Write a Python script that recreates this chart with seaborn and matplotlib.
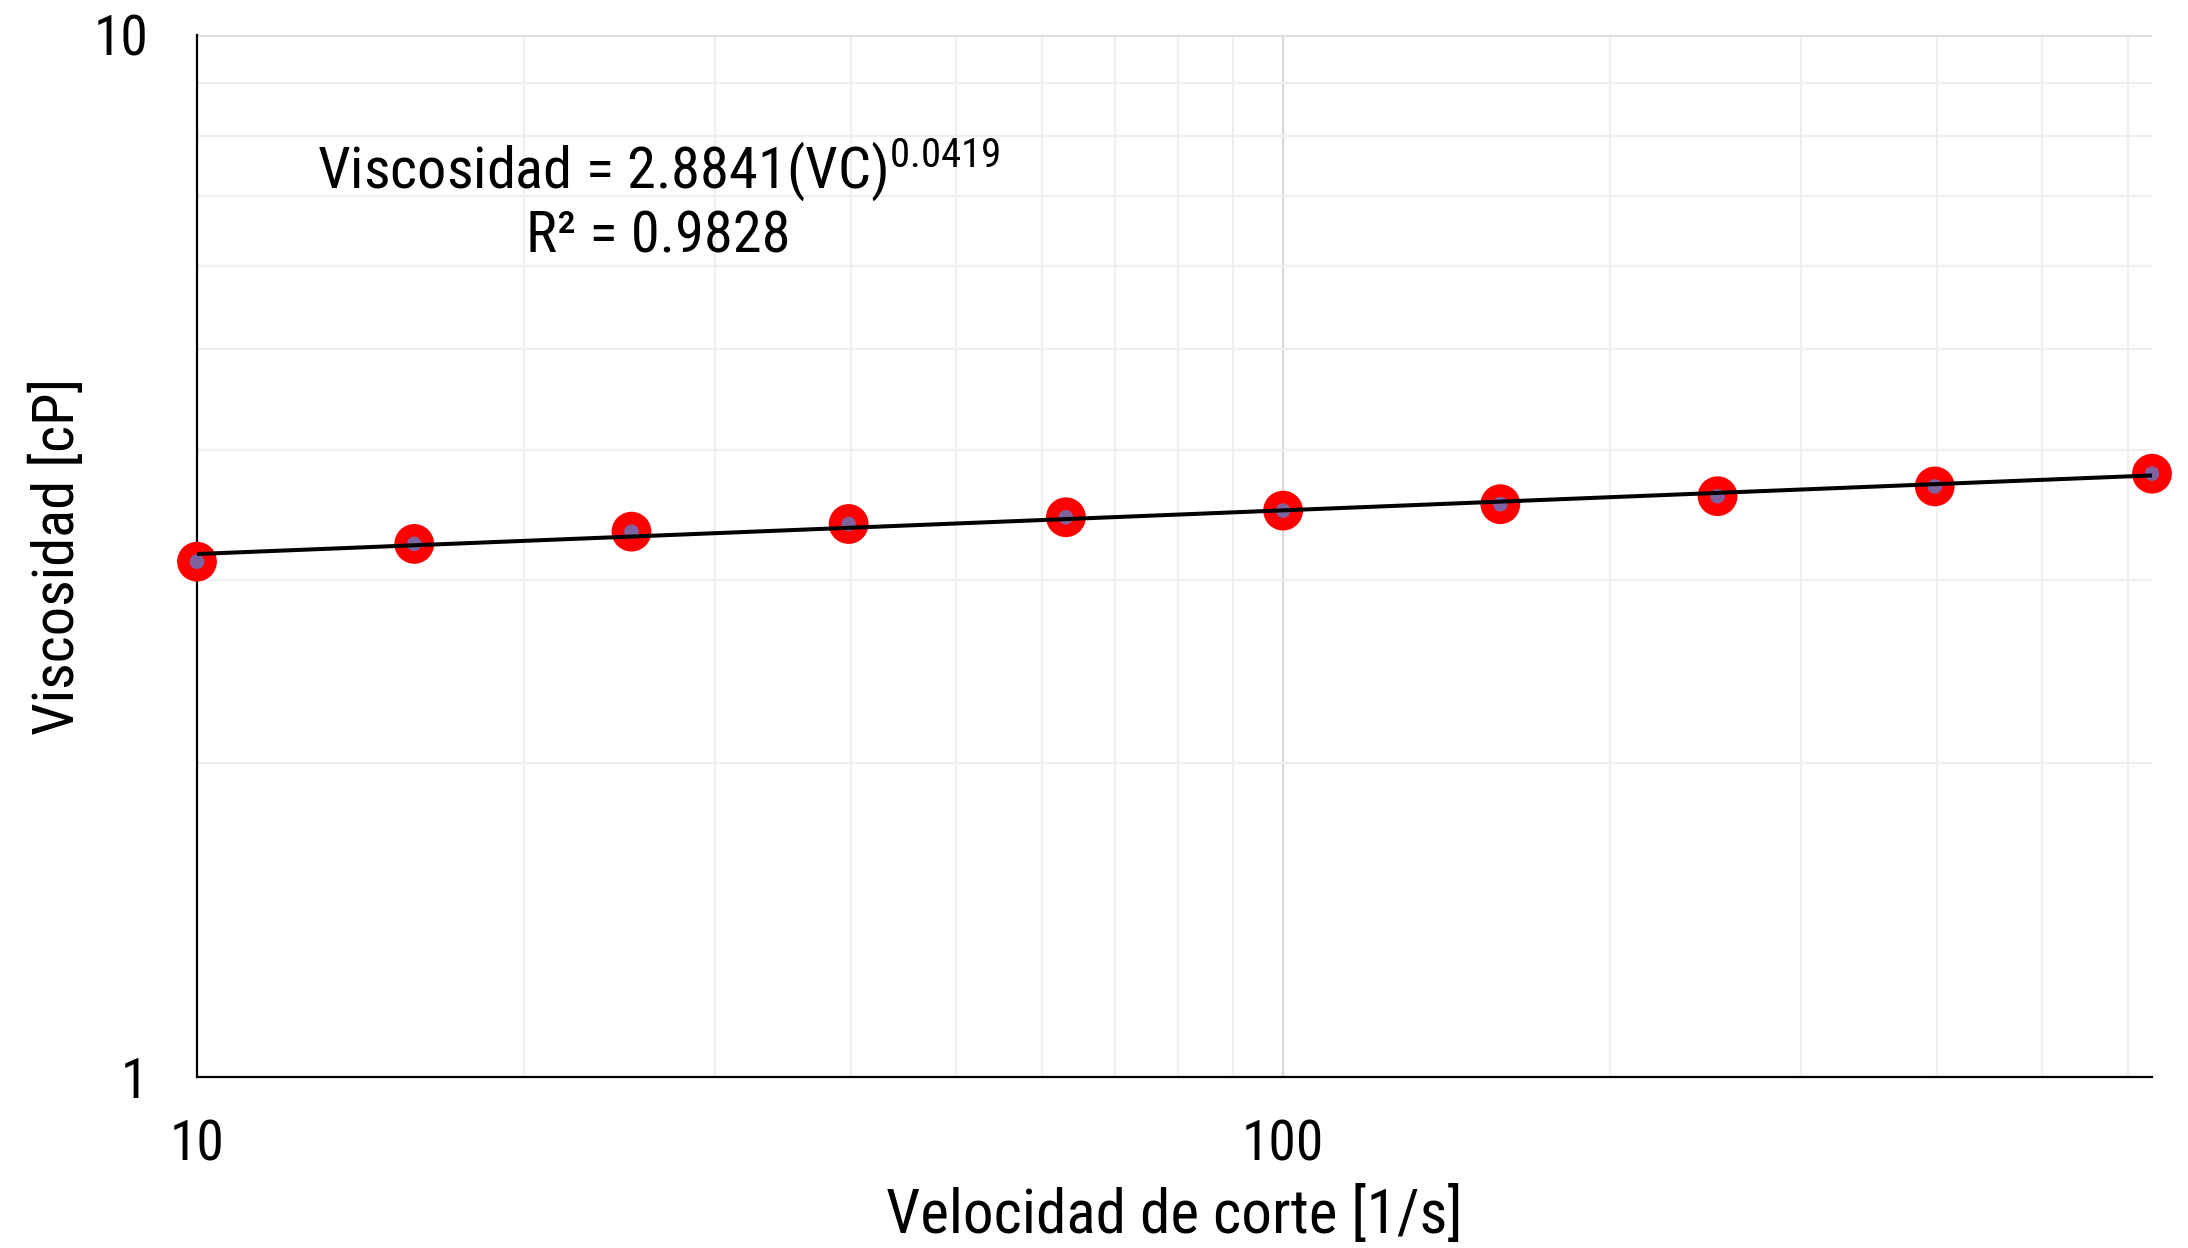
import numpy as np
import pandas as pd
import matplotlib
matplotlib.use("Agg")
import matplotlib.pyplot as plt
import seaborn as sns
from matplotlib import font_manager
from matplotlib.ticker import FixedLocator, NullFormatter, FixedFormatter

# ---- data ----
shear_rate = [10, 15.85, 25.12, 39.81, 63.10, 100, 158.5, 251.2, 398.1, 631.0]
viscosity = [3.123, 3.248, 3.337, 3.394, 3.445, 3.496, 3.546, 3.609, 3.688, 3.793]
fit_coef = 2.8841
fit_exp = 0.0419
r_squared = 0.9828
x_ticks = [10, 100]
x_ticklabels = ["10", "100"]
y_ticks = [1, 10]
y_ticklabels = ["1", "10"]
x_label = "Velocidad de corte [1/s]"
y_label = "Viscosidad [cP]"

sns.set_theme(style="white")

# find a condensed face if one is installed
cond_family, cond_stretch = None, "normal"
entries = font_manager.fontManager.ttflist
for pref in ["Liberation Sans Narrow", "Roboto Condensed", "Open Sans Condensed",
             "Noto Sans", "DejaVu Sans", "Open Sans", "Roboto"]:
    for f in entries:
        st = f.stretch if isinstance(f.stretch, str) else str(f.stretch)
        narrow_name = ("Narrow" in f.name) or ("Condensed" in f.name)
        is_cond = st in ("condensed", "semi-condensed", "extra-condensed", "ultra-condensed") \
            or (isinstance(f.stretch, int) and f.stretch < 500)
        if f.name == pref and (narrow_name or is_cond) and f.weight in (400, "normal", "regular"):
            cond_family = f.name
            cond_stretch = f.stretch
            break
    if cond_family:
        break
if cond_family is None:
    cond_family = "Liberation Sans"

plt.rcParams["font.family"] = [cond_family, "DejaVu Sans"]
plt.rcParams["font.stretch"] = cond_stretch
plt.rcParams["mathtext.fontset"] = "custom"
plt.rcParams["mathtext.rm"] = cond_family
plt.rcParams["mathtext.it"] = cond_family

df = pd.DataFrame({"x": shear_rate, "y": viscosity})
fit_x = np.logspace(np.log10(shear_rate[0]), np.log10(shear_rate[-1]), 50)
fit_df = pd.DataFrame({"x": fit_x, "y": fit_coef * fit_x ** fit_exp})

fig = plt.figure(figsize=(21.88, 12.48), dpi=100)
ax = fig.add_axes([197 / 2188, 1 - 1077 / 1248, (2152 - 197) / 2188, (1077 - 35) / 1248])
ax.set_xscale("log")
ax.set_yscale("log")
ax.set_xlim(shear_rate[0], shear_rate[-1])
ax.set_ylim(1, 10)

# grid
minor_x = [20, 30, 40, 50, 60, 70, 80, 90, 200, 300, 400, 500, 600]
for v in minor_x:
    ax.axvline(v, color="#efefef", lw=1.6, zorder=0)
ax.axvline(100, color="#d9d9d9", lw=1.6, zorder=0)
for v in [2, 3, 4, 5, 6, 7, 8, 9]:
    ax.axhline(v, color="#efefef", lw=1.6, zorder=0)
ax.axhline(10, color="#dedede", lw=2.0, zorder=0)

sns.scatterplot(data=df, x="x", y="y", ax=ax, s=820, color="#ff0000",
                edgecolor="none", zorder=3, legend=False, clip_on=False)
sns.scatterplot(data=df, x="x", y="y", ax=ax, s=110, color="#7f63a1",
                edgecolor="none", zorder=4, legend=False, clip_on=False)
sns.lineplot(data=fit_df, x="x", y="y", ax=ax, color="black", lw=2.9,
             zorder=5, legend=False)

ax.xaxis.set_major_locator(FixedLocator(x_ticks))
ax.xaxis.set_major_formatter(FixedFormatter(x_ticklabels))
ax.xaxis.set_minor_locator(FixedLocator([]))
ax.xaxis.set_minor_formatter(NullFormatter())
ax.yaxis.set_major_locator(FixedLocator(y_ticks))
ax.yaxis.set_major_formatter(FixedFormatter(y_ticklabels))
ax.yaxis.set_minor_locator(FixedLocator([]))
ax.yaxis.set_minor_formatter(NullFormatter())

for side in ["top", "right"]:
    ax.spines[side].set_visible(False)
for side in ["left", "bottom"]:
    ax.spines[side].set_color("black")
    ax.spines[side].set_linewidth(1.6)
ax.tick_params(axis="both", which="major", direction="out", length=11,
               width=1.3, color="black", labelsize=40, labelcolor="black")
ax.tick_params(axis="x", pad=19)
ax.tick_params(axis="y", pad=24)

ax.set_xlabel(x_label, fontsize=44, color="black", labelpad=10)
ax.set_ylabel(y_label, fontsize=42, color="black")
ax.yaxis.set_label_coords(-0.057, 0.5)

ax.text(0.236, 0.841,
        "Viscosidad = %.4f(VC)$^{%.4f}$\nR² = %.4f" % (fit_coef, fit_exp, r_squared),
        transform=ax.transAxes, ha="center", va="center", multialignment="center",
        fontsize=42, color="black", linespacing=1.15, zorder=6)

ax.set_facecolor("white")
fig.patch.set_facecolor("white")
fig.savefig("out.png", dpi=100, facecolor="white")
